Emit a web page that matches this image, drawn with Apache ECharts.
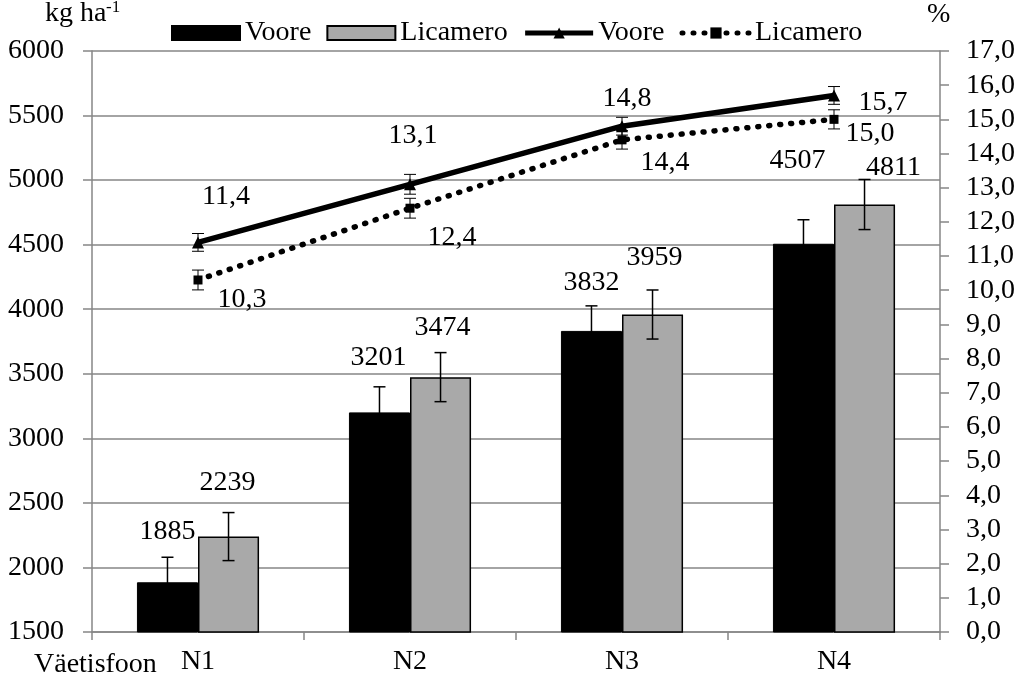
<!DOCTYPE html>
<html>
<head>
<meta charset="utf-8">
<style>html,body{margin:0;padding:0;background:#fff}#c{width:1024px;height:683px}</style>
<script src="https://cdn.jsdelivr.net/npm/echarts@6/dist/echarts.min.js"></script>
</head>
<body>
<div id="c"></div>
<script>
// ---- data ----
const categories = ['N1', 'N2', 'N3', 'N4'];
const yieldVoore = [1885, 3201, 3832, 4507];
const yieldLicamero = [2239, 3474, 3959, 4811];
const yieldErrVoore = [194, 198, 194, 186];
const yieldErrLicamero = [186, 190, 190, 194];
const pctVoore = [11.4, 13.1, 14.8, 15.7];
const pctLicamero = [10.3, 12.4, 14.4, 15.0];
const pctErrVoore = [0.26, 0.29, 0.26, 0.26];
const pctErrLicamero = [0.29, 0.29, 0.27, 0.28];
const leftTicks = {min: 1500, max: 6000, interval: 500};
const rightTicks = {min: 0, max: 17, interval: 1};

// ---- label placement (style, not data) ----
const barLabelOffVoore = [[0, -32], [-1, -36], [0, -29], [-6, -64]];
const barLabelOffLicamero = [[-1, -35], [2, -30], [2, -38], [29, -18]];
const lineLabelOffVoore = [[28, -46], [3, -49], [5, -28], [49, 7]];
const lineLabelOffLicamero = [[44, 20], [42, 29], [43, 23], [36, 14]];

const FONT = 'Liberation Serif';
const FS = 28;
const AXIS_C = '#868686';
const BAR_W_RATIO = 0.288;

function comma(v) { return v.toFixed(1).replace('.', ','); }

function barData(vals, offs) {
  return vals.map((v, i) => ({value: v, label: {offset: offs[i]}}));
}
function lineData(vals, offs) {
  return vals.map((v, i) => ({value: v, label: {offset: offs[i]}}));
}
function errData(vals, errs) {
  return vals.map((v, i) => [i, v, errs[i]]);
}
function errRender(shift, cap, lw) {
  return function (params, api) {
    const i = api.value(0), v = api.value(1), e = api.value(2);
    const band = api.size([1, 0])[0];
    const x = api.coord([i, v])[0] + shift * band;
    const yt = api.coord([i, v + e])[1];
    const yb = api.coord([i, v - e])[1];
    const st = {stroke: '#000', lineWidth: lw};
    return {type: 'group', children: [
      {type: 'line', shape: {x1: x, y1: yt, x2: x, y2: yb}, style: st},
      {type: 'line', shape: {x1: x - cap / 2, y1: yt, x2: x + cap / 2, y2: yt}, style: st},
      {type: 'line', shape: {x1: x - cap / 2, y1: yb, x2: x + cap / 2, y2: yb}, style: st}
    ]};
  };
}

const chart = echarts.init(document.getElementById('c'), null, {renderer: 'canvas'});
const labelBase = {show: true, color: '#000', fontFamily: FONT, fontSize: FS};
const dotted = {color: '#000', width: 5.5, type: [1, 10], cap: 'round'};
const solid = {color: '#000', width: 5.5};

chart.setOption({
  animation: false,
  backgroundColor: '#fff',
  textStyle: {fontFamily: FONT, color: '#000'},
  grid: {left: 92, right: 84, top: 51, bottom: 51},
  legend: {
    left: 166, top: 14, itemWidth: 68, itemHeight: 14, itemGap: 15,
    textStyle: {fontFamily: FONT, fontSize: 28, color: '#000'},
    formatter: n => n.replace(' %', ''),
    data: [
      {name: 'Voore', icon: 'rect'},
      {name: 'Licamero', icon: 'rect'},
      {name: 'Voore %', lineStyle: {width: 5, color: '#000'}},
      {name: 'Licamero %', lineStyle: {width: 5, color: '#000', type: [1, 10], cap: 'round'}}
    ]
  },
  xAxis: {
    type: 'category', data: categories,
    axisLine: {lineStyle: {color: AXIS_C, width: 1.5}},
    axisTick: {show: true, length: 8, lineStyle: {color: AXIS_C, width: 1.5}},
    axisLabel: {color: '#000', fontFamily: FONT, fontSize: FS, margin: 16}
  },
  yAxis: [{
    type: 'value', min: leftTicks.min, max: leftTicks.max, interval: leftTicks.interval,
    axisLine: {show: true, lineStyle: {color: AXIS_C, width: 1.5}},
    axisTick: {show: true, length: 9, lineStyle: {color: AXIS_C, width: 1.5}},
    splitLine: {lineStyle: {color: AXIS_C, width: 1.5}},
    axisLabel: {color: '#000', fontFamily: FONT, fontSize: FS, margin: 28, formatter: v => String(v)}
  }, {
    type: 'value', position: 'right', min: rightTicks.min, max: rightTicks.max, interval: rightTicks.interval,
    axisLine: {show: true, lineStyle: {color: AXIS_C, width: 1.5}},
    axisTick: {show: true, length: 9, lineStyle: {color: AXIS_C, width: 1.5}},
    splitLine: {show: false},
    axisLabel: {color: '#000', fontFamily: FONT, fontSize: FS, margin: 26, formatter: v => comma(v)}
  }],
  series: [
    {
      name: 'Voore', type: 'bar', barWidth: (BAR_W_RATIO * 100) + '%', barGap: '0%',
      itemStyle: {color: '#000', borderColor: '#000', borderWidth: 1},
      label: Object.assign({}, labelBase, {position: 'top'}),
      data: barData(yieldVoore, barLabelOffVoore), z: 2
    },
    {
      name: 'Licamero', type: 'bar', barWidth: (BAR_W_RATIO * 100) + '%', barGap: '0%',
      itemStyle: {color: '#a9a9a9', borderColor: '#000', borderWidth: 1.5},
      label: Object.assign({}, labelBase, {position: 'top'}),
      data: barData(yieldLicamero, barLabelOffLicamero), z: 2
    },
    {
      name: 'Voore %', type: 'line', yAxisIndex: 1,
      lineStyle: solid,
      itemStyle: {color: '#000'},
      symbol: 'triangle', symbolSize: 12, showAllSymbol: true,
      label: Object.assign({}, labelBase, {position: 'inside', formatter: p => comma(p.value)}),
      data: lineData(pctVoore, lineLabelOffVoore), z: 5
    },
    {
      name: 'Licamero %', type: 'line', yAxisIndex: 1,
      lineStyle: dotted,
      itemStyle: {color: '#000'},
      symbol: 'rect', symbolSize: 9, showAllSymbol: true,
      label: Object.assign({}, labelBase, {position: 'inside', formatter: p => comma(p.value)}),
      data: lineData(pctLicamero, lineLabelOffLicamero), z: 5
    },
    {type: 'custom', renderItem: errRender(-BAR_W_RATIO / 2, 12, 1.5), data: errData(yieldVoore, yieldErrVoore), z: 3, silent: true},
    {type: 'custom', renderItem: errRender(BAR_W_RATIO / 2, 12, 1.5), data: errData(yieldLicamero, yieldErrLicamero), z: 3, silent: true},
    {type: 'custom', yAxisIndex: 1, renderItem: errRender(0, 12, 1), data: errData(pctVoore, pctErrVoore), z: 4, silent: true},
    {type: 'custom', yAxisIndex: 1, renderItem: errRender(0, 12, 1), data: errData(pctLicamero, pctErrLicamero), z: 4, silent: true}
  ],
  graphic: [
    {type: 'text', left: 45, top: 0, style: {text: 'kg ha', font: '28px "' + FONT + '"', fill: '#000'}},
    {type: 'text', left: 106, top: -1, style: {text: '-1', font: '17px "' + FONT + '"', fill: '#000'}},
    {type: 'text', left: 927, top: 1, style: {text: '%', font: '28px "' + FONT + '"', fill: '#000'}},
    {type: 'text', left: 34, top: 651, style: {text: 'Väetisfoon', font: '28px "' + FONT + '"', fill: '#000'}}
  ]
});
</script>
</body>
</html>
